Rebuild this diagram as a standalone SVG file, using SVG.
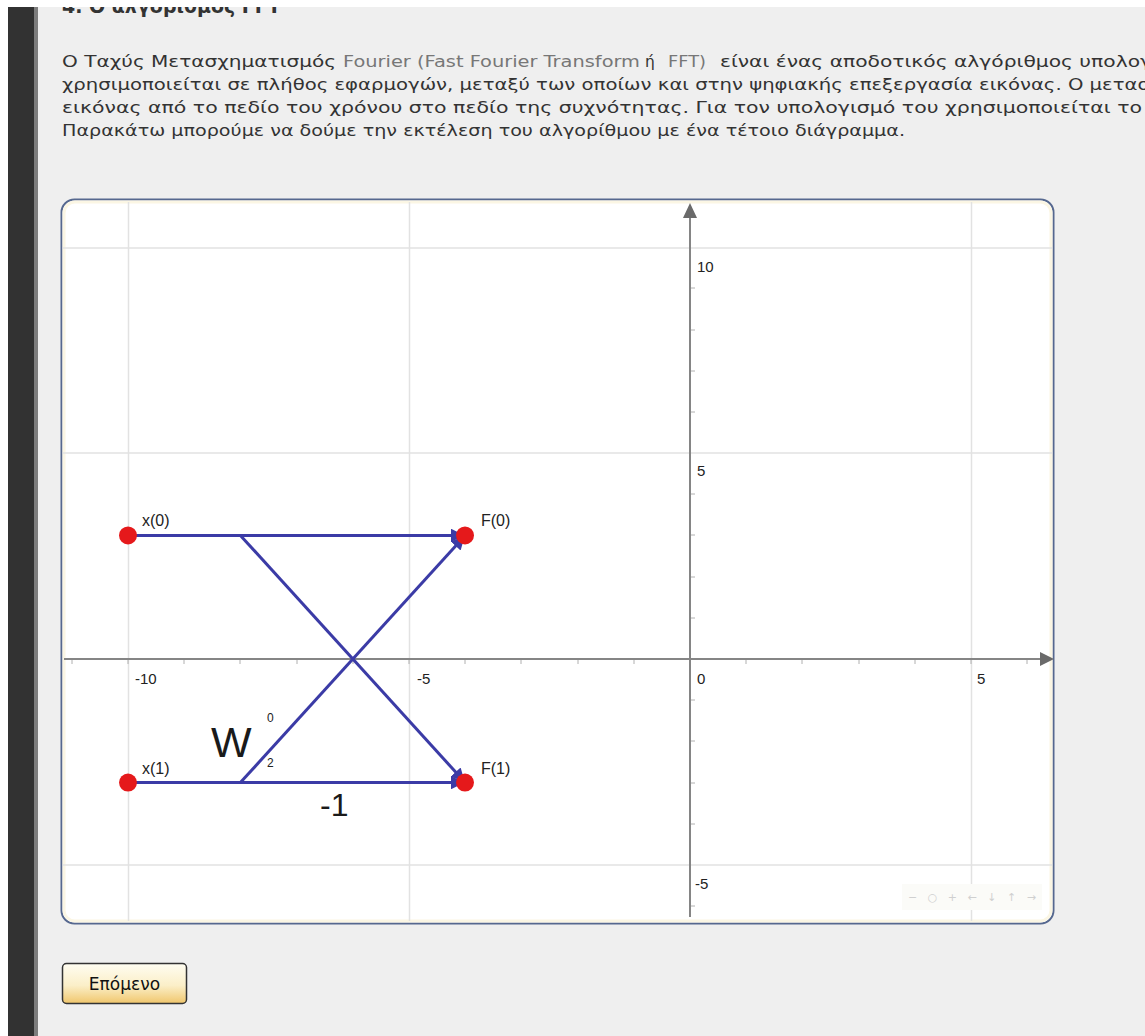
<svg xmlns="http://www.w3.org/2000/svg" width="1145" height="1036" viewBox="0 0 1145 1036">
<defs>
<style>
.p{font-family:"DejaVu Sans","Liberation Sans",sans-serif;font-size:15.5px;fill:#333}
.pl{fill:#777}
.num{font-family:"Liberation Sans",Arial,sans-serif;font-size:15px;fill:#222}
.lbl{font-family:"Liberation Sans",Arial,sans-serif;font-size:16px;fill:#222}
.grid{stroke:#e2e2e2;stroke-width:1.5;fill:none}
.axis{stroke:#858585;stroke-width:2;fill:none}
.tick{stroke:#b0b0b0;stroke-width:1;fill:none}
.edge{stroke:#3b3ba6;stroke-width:3;fill:none;marker-end:url(#ah)}
.dot{fill:#e5191b}
</style>
<marker id="ah" viewBox="0 0 10 10" refX="9" refY="5" markerWidth="4.5" markerHeight="4.5" orient="auto" markerUnits="strokeWidth">
<path d="M0,0 L10,5 L0,10 z" fill="#3b3ba6"/>
</marker>
<linearGradient id="btn" x1="0" y1="0" x2="0" y2="1">
<stop offset="0" stop-color="#fffdf2"/>
<stop offset="0.55" stop-color="#fbefc8"/>
<stop offset="1" stop-color="#f0c66c"/>
</linearGradient>
</defs>

<rect x="0" y="0" width="1145" height="1036" fill="#efefef"/>
<rect x="8" y="0" width="26" height="1036" fill="#323232"/>
<rect x="34" y="0" width="4" height="1036" fill="#7d7d7d"/>

<g id="heading">
<text x="62" y="13" class="p" style="font-size:19px;font-weight:bold">4. Ο αλγόριθμος FFT</text>
</g>
<rect x="0" y="0" width="1145" height="7" fill="#ffffff"/>
<rect x="0" y="0" width="8" height="1036" fill="#ffffff"/>

<g id="paragraph">
<text x="62" y="67" class="p" textLength="274" lengthAdjust="spacingAndGlyphs">Ο Ταχύς Μετασχηματισμός</text>
<text x="343" y="67" class="p pl" textLength="297" lengthAdjust="spacingAndGlyphs">Fourier (Fast Fourier Transform</text>
<text x="645" y="67" class="p">ή</text>
<text x="668" y="67" class="p pl" textLength="38" lengthAdjust="spacingAndGlyphs">FFT)</text>
<text x="720" y="67" class="p" textLength="432" lengthAdjust="spacingAndGlyphs">είναι ένας αποδοτικός αλγόριθμος υπολογ</text>
<text x="62" y="90" class="p" textLength="1088" lengthAdjust="spacingAndGlyphs">χρησιμοποιείται σε πλήθος εφαρμογών, μεταξύ των οποίων και στην ψηφιακής επεξεργασία εικόνας. Ο μετασ</text>
<text x="62" y="113" class="p" textLength="1080" lengthAdjust="spacingAndGlyphs">εικόνας από το πεδίο του χρόνου στο πεδίο της συχνότητας. Για τον υπολογισμό του χρησιμοποιείται το</text>
<text x="62" y="136" class="p" textLength="843" lengthAdjust="spacingAndGlyphs">Παρακάτω μπορούμε να δούμε την εκτέλεση του αλγορίθμου με ένα τέτοιο διάγραμμα.</text>
</g>

<g id="graph-panel">
<rect x="61.5" y="199.5" width="992" height="724" rx="13" fill="#ffffff" stroke="#56688f" stroke-width="2"/>
<rect x="64" y="202" width="987" height="719" rx="11" fill="none" stroke="#fbf6e4" stroke-width="3"/>
</g>

<g id="grid">
<path class="grid" d="M128.5,202V921 M409.5,202V921 M971.5,202V921 M63,248H1052 M63,453H1052 M63,865H1052"/>
</g>

<g id="axes">
<path class="tick" d="M72,659v5 M128,659v5 M184,659v5 M240,659v5 M297,659v5 M353,659v5 M409,659v5 M465,659v5 M521,659v5 M578,659v5 M634,659v5 M746,659v5 M802,659v5 M859,659v5 M915,659v5 M971,659v5 M1027,659v5"/>
<path class="tick" d="M690,288h5 M690,330h5 M690,371h5 M690,412h5 M690,494h5 M690,535h5 M690,577h5 M690,618h5 M690,700h5 M690,741h5 M690,783h5 M690,824h5 M690,906h5"/>
<path class="axis" d="M64,659H1042"/>
<path d="M1040,652L1054,659L1040,666z" fill="#6a6a6a"/>
<path class="axis" d="M690,917V216"/>
<path d="M683,218L690,203L697,218z" fill="#6a6a6a"/>
<text class="num" x="697" y="272">10</text>
<text class="num" x="697" y="476">5</text>
<text class="num" x="695" y="889">-5</text>
<text class="num" x="135" y="684">-10</text>
<text class="num" x="417" y="684">-5</text>
<text class="num" x="697" y="684">0</text>
<text class="num" x="977" y="684">5</text>
<rect x="902" y="884" width="140" height="26" fill="#fbfbf8"/>
<text x="908" y="901" style="font-family:'DejaVu Sans',sans-serif;font-size:11px;fill:#d0d0d0" textLength="128" lengthAdjust="spacing">− ○ + ← ↓ ↑ →</text>
</g>

<g id="connectors">
<path class="edge" d="M128,535.4H463"/>
<path class="edge" d="M128,782.6H463"/>
<path class="edge" d="M240.4,535.4L463.8,781"/>
<path class="edge" d="M240.4,782.6L463.8,537"/>
</g>

<g id="node-x0"><circle class="dot" cx="128" cy="535.4" r="9"/><text class="lbl" x="142" y="526">x(0)</text></g>
<g id="node-x1"><circle class="dot" cx="128" cy="782.6" r="9"/><text class="lbl" x="142" y="774">x(1)</text></g>
<g id="node-F0"><circle class="dot" cx="465" cy="535.4" r="9"/><text class="lbl" x="481" y="526">F(0)</text></g>
<g id="node-F1"><circle class="dot" cx="465" cy="782.6" r="9"/><text class="lbl" x="481" y="774">F(1)</text></g>

<g id="twiddle">
<text x="211" y="757" style="font-family:'Liberation Sans',Arial,sans-serif;font-size:43px;fill:#1a1a1a">W</text>
<text x="267" y="722" style="font-family:'Liberation Sans',Arial,sans-serif;font-size:12px;fill:#222">0</text>
<text x="267" y="767" style="font-family:'Liberation Sans',Arial,sans-serif;font-size:12px;fill:#222">2</text>
<text x="320" y="816" style="font-family:'Liberation Sans',Arial,sans-serif;font-size:32px;fill:#1a1a1a">-1</text>
</g>

<g id="button-next">
<rect x="62.5" y="963.5" width="124" height="40" rx="4" fill="url(#btn)" stroke="#333" stroke-width="1.5"/>
<text x="124.5" y="990" text-anchor="middle" style="font-family:'DejaVu Sans','Liberation Sans',sans-serif;font-size:17px;fill:#111">Επόμενο</text>
</g>
</svg>
